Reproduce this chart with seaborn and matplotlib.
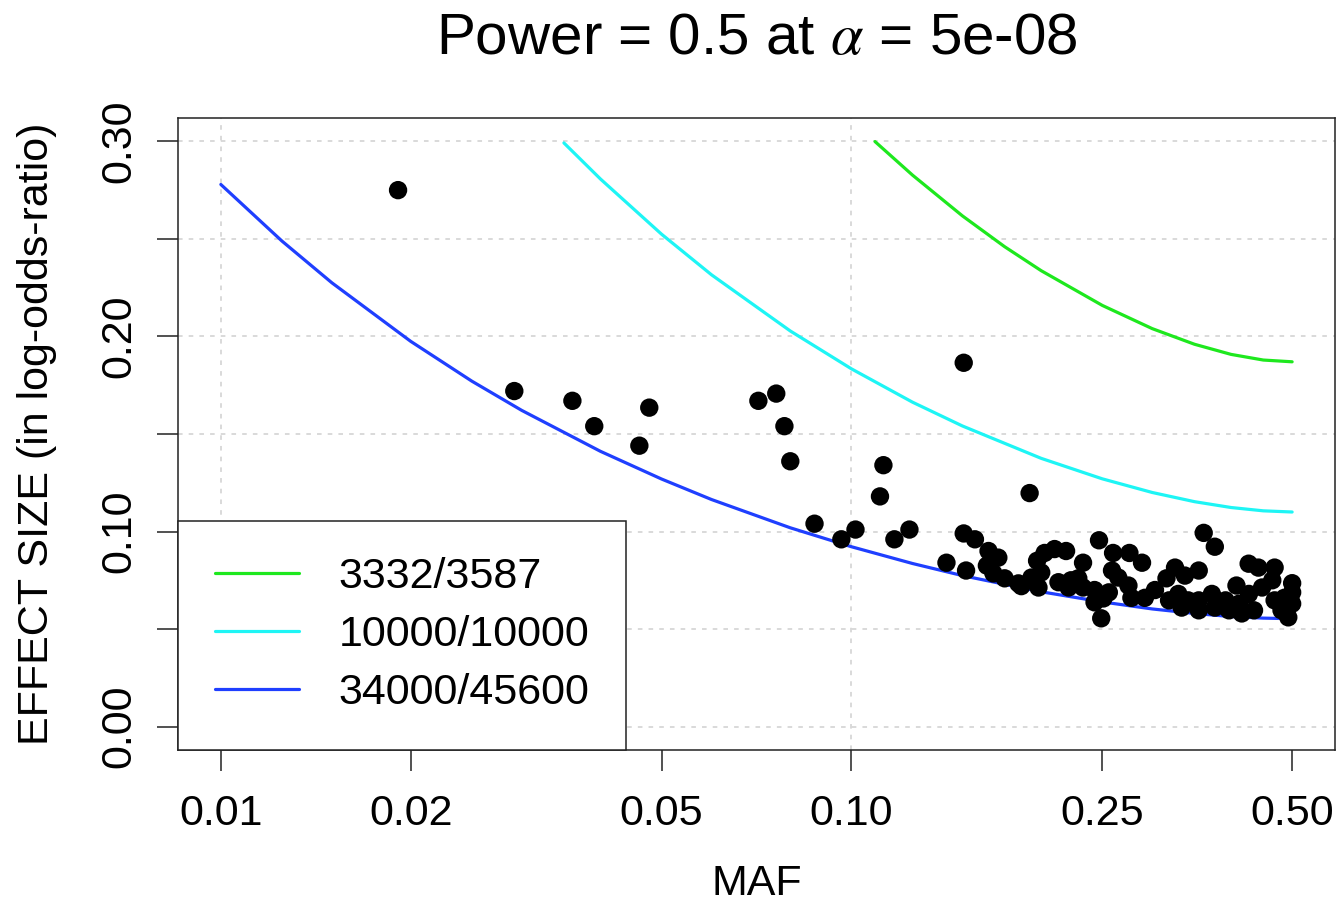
"""
Power curves: effect size detectable at power 0.5, alpha 5e-08
"""

import matplotlib.pyplot as plt
import seaborn as sns
import pandas as pd
from matplotlib.ticker import FixedLocator, NullLocator

sns.set_theme(style="white")
plt.rcParams["font.family"] = ["Liberation Sans", "DejaVu Sans"]
plt.rcParams["mathtext.fontset"] = "stix"
for key in ["text.color", "axes.labelcolor", "xtick.color", "ytick.color"]:
    plt.rcParams[key] = "black"

# curve values
maf_curve_small = [0.109, 0.125, 0.15, 0.175, 0.2, 0.25, 0.3, 0.35, 0.4, 0.45, 0.5]
eff_curve_small = [0.2999, 0.2827, 0.2618, 0.2460, 0.2337, 0.2159, 0.2040, 0.1960, 0.1908, 0.1879, 0.1870]

maf_curve_mid = [0.035, 0.04, 0.05, 0.06, 0.08, 0.1, 0.125, 0.15, 0.2, 0.25, 0.3, 0.35, 0.4, 0.45, 0.5]
eff_curve_mid = [0.2992, 0.2807, 0.2524, 0.2316, 0.2028, 0.1834, 0.1663, 0.1541, 0.1375, 0.1270,
                 0.1200, 0.1153, 0.1123, 0.1106, 0.1100]

maf_curve_big = [0.01, 0.0125, 0.015, 0.02, 0.025, 0.03, 0.04, 0.05, 0.06, 0.08, 0.1, 0.125,
                 0.15, 0.2, 0.25, 0.3, 0.35, 0.4, 0.45, 0.5]
eff_curve_big = [0.2779, 0.2489, 0.2275, 0.1975, 0.1771, 0.1621, 0.1411, 0.1269, 0.1164, 0.1019,
                 0.0922, 0.0836, 0.0774, 0.0691, 0.0639, 0.0603, 0.0580, 0.0564, 0.0556, 0.0553]

curve_labels = ["3332/3587", "10000/10000", "34000/45600"]
curve_colors = ["#1EE81E", "#1EF5F5", "#1F3FFF"]

# observed SNPs
snp_maf = [0.0191, 0.0292, 0.0361, 0.0391, 0.0461, 0.0478, 0.0712, 0.0760, 0.0783, 0.0800,
           0.0874, 0.0964, 0.1015, 0.1110, 0.1124, 0.1170, 0.1236, 0.1415, 0.1507, 0.1507,
           0.1570, 0.1520, 0.1650, 0.1710, 0.1640, 0.1680, 0.1750, 0.1840, 0.1860, 0.1917,
           0.1930, 0.1970, 0.1980, 0.2000, 0.2025, 0.2100, 0.2130, 0.2190, 0.2210, 0.2230,
           0.2290, 0.2330, 0.2330, 0.2430, 0.2430, 0.2470, 0.2490, 0.2510, 0.2560, 0.2600,
           0.2590, 0.2650, 0.2750, 0.2760, 0.2780, 0.2890, 0.2920, 0.3030, 0.3160, 0.3190,
           0.3260, 0.3300, 0.3340, 0.3380, 0.3420, 0.3555, 0.3555, 0.3555, 0.3620, 0.3730,
           0.3770, 0.3770, 0.3920, 0.3970, 0.4080, 0.4120, 0.4160, 0.4266, 0.4270, 0.4350,
           0.4420, 0.4480, 0.4650, 0.4690, 0.4690, 0.4810, 0.4860, 0.4930, 0.5000, 0.5000,
           0.5000]
snp_eff = [0.275, 0.172, 0.167, 0.154, 0.144, 0.1635, 0.167, 0.1707, 0.154, 0.136,
           0.104, 0.096, 0.101, 0.118, 0.134, 0.096, 0.101, 0.084, 0.1865, 0.099,
           0.096, 0.080, 0.090, 0.0866, 0.0825, 0.0785, 0.076, 0.0734, 0.072, 0.1197,
           0.0764, 0.085, 0.0713, 0.079, 0.089, 0.091, 0.074, 0.090, 0.0713, 0.075,
           0.076, 0.084, 0.0713, 0.070, 0.0637, 0.0955, 0.0555, 0.0657, 0.0688, 0.089,
           0.080, 0.0764, 0.0723, 0.089, 0.066, 0.084, 0.066, 0.070, 0.076, 0.0647,
           0.0815, 0.068, 0.061, 0.0774, 0.0647, 0.080, 0.0647, 0.0596, 0.0993, 0.068,
           0.0922, 0.061, 0.0647, 0.0596, 0.0723, 0.063, 0.058, 0.0835, 0.068, 0.0596,
           0.0815, 0.0713, 0.075, 0.0815, 0.0647, 0.0596, 0.066, 0.056, 0.0735, 0.0688,
           0.063]

x_ticks = [0.01, 0.02, 0.05, 0.10, 0.25, 0.50]
x_tick_labels = ["0.01", "0.02", "0.05", "0.10", "0.25", "0.50"]
y_ticks = [0.00, 0.05, 0.10, 0.15, 0.20, 0.25, 0.30]
y_tick_labels = ["0.00", "", "0.10", "", "0.20", "", "0.30"]
grid_x = [0.01, 0.10]


def plot_power(output_path="out.png"):
    fig = plt.figure(figsize=(13.4, 9.06), dpi=100)
    ax = fig.add_axes([0.1328, 0.1722, 0.8635, 0.6976])

    # dotted grid like R's grid()
    for gy in y_ticks:
        ax.axhline(gy, color="#D0D0D0", lw=1.1, ls=(0, (3, 4)), zorder=0)
    for gx in grid_x:
        ax.axvline(gx, color="#D0D0D0", lw=1.1, ls=(0, (3, 4)), zorder=0)

    curves = [
        (maf_curve_small, eff_curve_small),
        (maf_curve_mid, eff_curve_mid),
        (maf_curve_big, eff_curve_big),
    ]
    for (mx, ey), lab, col in zip(curves, curve_labels, curve_colors):
        df = pd.DataFrame({"MAF": mx, "EFF": ey})
        sns.lineplot(data=df, x="MAF", y="EFF", color=col, lw=2.3,
                     label=lab, ax=ax, zorder=2)

    pts = pd.DataFrame({"MAF": snp_maf, "EFF": snp_eff})
    sns.scatterplot(data=pts, x="MAF", y="EFF", color="black", s=175,
                    edgecolor="none", ax=ax, zorder=3)

    ax.set_xscale("log")
    ax.set_xlim(0.00855, 0.5848)
    ax.set_ylim(-0.012, 0.312)
    ax.xaxis.set_major_locator(FixedLocator(x_ticks))
    ax.xaxis.set_minor_locator(NullLocator())
    ax.set_xticklabels(x_tick_labels)
    ax.yaxis.set_major_locator(FixedLocator(y_ticks))
    ax.set_yticklabels(y_tick_labels, rotation=90, va="center")

    ax.tick_params(axis="both", which="major", direction="out", length=15,
                   width=1.1, color="#222222", labelsize=31, pad=13,
                   bottom=True, left=True)
    ax.tick_params(axis="x", pad=17)
    for sp in ax.spines.values():
        sp.set_visible(True)
        sp.set_color("#222222")
        sp.set_linewidth(1.1)

    ax.set_title(r"Power = 0.5 at $\alpha$ = 5e-08", fontsize=42, pad=46)
    ax.set_xlabel("MAF", fontsize=31, labelpad=21)
    ax.set_ylabel("EFFECT SIZE (in log-odds-ratio)", fontsize=31, labelpad=30)

    leg = ax.legend(loc="lower left", bbox_to_anchor=(0, 0), borderaxespad=0,
                    frameon=True, fancybox=False, framealpha=1, edgecolor="#222222",
                    fontsize=31, handlelength=1.95, handletextpad=0.93,
                    borderpad=0.85, labelspacing=0.42)
    leg.get_frame().set_linewidth(1.1)
    leg.set_zorder(5)

    fig.savefig(output_path, dpi=100)
    plt.close(fig)


plot_power()
